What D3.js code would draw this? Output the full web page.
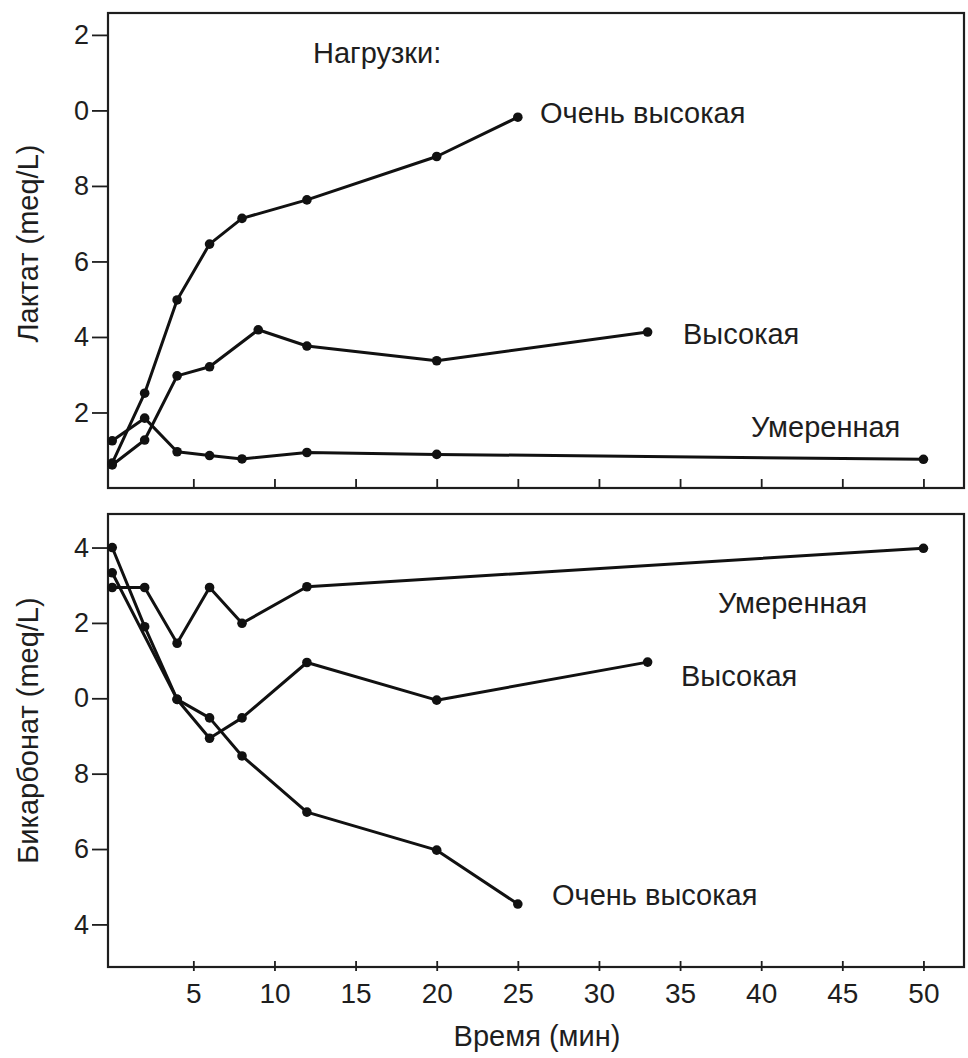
<!DOCTYPE html>
<html>
<head>
<meta charset="utf-8">
<script src="https://cdn.jsdelivr.net/npm/d3@7/dist/d3.min.js"></script>
<style>
  body { margin: 0; background: #fff; }
  text { font-family: "Liberation Sans", Arial, sans-serif; fill: #1e1e1e; }
</style>
</head>
<body>
<div id="chart"></div>
<script>
// time values (min) and readings for each load level
const lacTimeVeryHigh = [0, 2, 4, 6, 8, 12, 20, 25];
const lacVeryHigh     = [0.66, 2.51, 4.98, 6.46, 7.14, 7.63, 8.78, 9.82];
const lacTimeHigh     = [0, 2, 4, 6, 9, 12, 20, 33];
const lacHigh         = [0.61, 1.27, 2.97, 3.21, 4.19, 3.76, 3.37, 4.13];
const lacTimeModerate = [0, 2, 4, 6, 8, 12, 20, 50];
const lacModerate     = [1.25, 1.85, 0.96, 0.86, 0.77, 0.94, 0.89, 0.76];

const bicTimeVeryHigh = [0, 2, 4, 6, 8, 12, 20, 25];
const bicVeryHigh     = [24, 21.9, 19.97, 19.48, 18.47, 16.98, 15.97, 14.54];
const bicTimeHigh     = [0, 4, 6, 8, 12, 20, 33];
const bicHigh         = [23.33, 19.97, 18.94, 19.48, 20.95, 19.95, 20.96];
const bicTimeModerate = [0, 2, 4, 6, 8, 12, 50];
const bicModerate     = [22.94, 22.94, 21.46, 22.94, 21.99, 22.96, 23.98];

// tick values and the labels as printed
const xTicks = [5, 10, 15, 20, 25, 30, 35, 40, 45, 50];
const lacTicks = [2, 4, 6, 8, 10, 12];
const lacTickLabels = ["2", "4", "6", "8", "0", "2"];
const bicTicks = [14, 16, 18, 20, 22, 24];
const bicTickLabels = ["4", "6", "8", "0", "2", "4"];

const W = 968, H = 1058;
const left = 108, right = 964;
const top1 = 13, bottom1 = 488;
const top2 = 514, bottom2 = 967;
const fs = 27, fsLabel = 29;

const svg = d3.select("#chart").append("svg")
    .attr("width", W)
    .attr("height", H);

let x = d3.scaleLinear().domain([-0.26, 52.5]).range([left, right]);
let yLac = d3.scaleLinear().domain([0, 12.58]).range([bottom1, top1]);
let yBic = d3.scaleLinear().domain([12.87, 24.89]).range([bottom2, top2]);

function zip(ts, vs) {
    return ts.map(function(t, i) { return {t: t, v: vs[i]}; });
}

function drawPanel(y, top, bottom, ticks, tickLabels, series, showXLabels) {
    // y axis
    svg.append("g")
        .attr("transform", `translate(${left},0)`)
        .call(d3.axisLeft(y).tickValues(ticks)
            .tickFormat(function(d, i) { return tickLabels[i]; })
            .tickSize(16).tickPadding(3).tickSizeOuter(0))
        .call(g => g.select(".domain").remove())
        .call(g => g.selectAll(".tick line").attr("stroke", "#1e1e1e").attr("stroke-width", 1.8))
        .call(g => g.selectAll(".tick text").style("font-size", fs + "px").attr("fill", "#1e1e1e"));

    // x axis (ticks pointing into the plot)
    let xa = svg.append("g")
        .attr("transform", `translate(0,${bottom})`)
        .call(d3.axisBottom(x).tickValues(xTicks)
            .tickFormat(showXLabels ? d3.format("d") : "")
            .tickSize(-9).tickPadding(16).tickSizeOuter(0))
        .call(g => g.select(".domain").remove())
        .call(g => g.selectAll(".tick line").attr("stroke", "#1e1e1e").attr("stroke-width", 1.8))
        .call(g => g.selectAll(".tick text").style("font-size", (fs + 1) + "px").attr("fill", "#1e1e1e"));
    if (showXLabels) xa.selectAll(".tick line").attr("y1", 4).attr("y2", -6);

    // frame
    svg.append("rect")
        .attr("x", left).attr("y", top)
        .attr("width", right - left).attr("height", bottom - top)
        .attr("fill", "none")
        .attr("stroke", "#1e1e1e")
        .attr("stroke-width", 2.2);

    let line = d3.line()
        .x(function(d) { return x(d.t); })
        .y(function(d) { return y(d.v); });

    series.forEach(function(s) {
        svg.append("path")
            .datum(s)
            .attr("fill", "none")
            .attr("stroke", "#111")
            .attr("stroke-width", 3)
            .attr("stroke-linejoin", "round")
            .attr("d", line);

        svg.append("g").selectAll("circle")
            .data(s)
            .enter()
            .append("circle")
            .attr("cx", function(d) { return x(d.t); })
            .attr("cy", function(d) { return y(d.v); })
            .attr("r", 4.8)
            .attr("fill", "#111");
    });
}

drawPanel(yLac, top1, bottom1, lacTicks, lacTickLabels, [
    zip(lacTimeVeryHigh, lacVeryHigh),
    zip(lacTimeHigh, lacHigh),
    zip(lacTimeModerate, lacModerate)
], false);

drawPanel(yBic, top2, bottom2, bicTicks, bicTickLabels, [
    zip(bicTimeVeryHigh, bicVeryHigh),
    zip(bicTimeHigh, bicHigh),
    zip(bicTimeModerate, bicModerate)
], true);

// annotations
function label(txt, px, py) {
    svg.append("text")
        .attr("x", px).attr("y", py)
        .attr("dy", "0.35em")
        .style("font-size", fsLabel + "px")
        .text(txt);
}

label("Нагрузки:", 313, 53);
label("Очень высокая", 540, 113);
label("Высокая", 683, 334);
label("Умеренная", 751, 427);

label("Умеренная", 718, 603);
label("Высокая", 681, 676);
label("Очень высокая", 552, 895);

// axis titles
svg.append("text")
    .attr("transform", `translate(28,${(top1 + bottom1) / 2 - 7}) rotate(-90)`)
    .attr("dy", "0.35em")
    .style("font-size", fsLabel + "px")
    .style("text-anchor", "middle")
    .text("Лактат (meq/L)");

svg.append("text")
    .attr("transform", `translate(28,${(top2 + bottom2) / 2 - 10}) rotate(-90)`)
    .attr("dy", "0.35em")
    .style("font-size", fsLabel + "px")
    .style("text-anchor", "middle")
    .text("Бикарбонат (meq/L)");

svg.append("text")
    .attr("x", 537)
    .attr("y", 1046)
    .style("font-size", fsLabel + "px")
    .style("text-anchor", "middle")
    .text("Время (мин)");
</script>
</body>
</html>
